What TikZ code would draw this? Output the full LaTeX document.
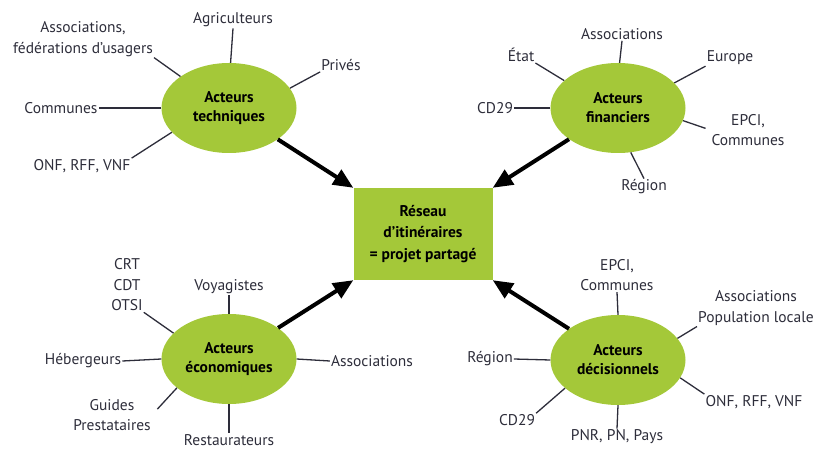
\documentclass[tikz,border=0pt]{standalone}
\usepackage{fontspec}
\setmainfont{PT Sans}
\usepackage{xcolor}
\usepackage{tikz}
\usetikzlibrary{arrows.meta}
\usetikzlibrary{shapes.geometric}

\definecolor{leaf}{RGB}{164,200,57}
\definecolor{ink}{RGB}{45,45,58}

\tikzset{
  acteur/.style={ellipse,fill=leaf,minimum width=135pt,minimum height=90pt,
    inner sep=0pt,align=center,font=\bfseries\fontsize{15.5}{19}\selectfont},
  lab/.style={align=center,text=ink,inner sep=1pt,
    font=\fontsize{15.5}{20.5}\selectfont},
  spoke/.style={draw=ink,line width=1.3pt},
  push/.style={line width=4pt,-{Triangle[length=20pt,width=17pt]}}
}

\begin{document}
\begin{tikzpicture}[x=1pt,y=-1pt]
    \useasboundingbox (0,0) rectangle (816,449);
    % centre
    \node[fill=leaf,minimum width=139pt,minimum height=92pt,align=center,
      font=\bfseries\fontsize{15.5}{21.5}\selectfont] (reseau) at (423,234)
      {Réseau\\d’itinéraires\\= projet partagé};
    % acteurs
    \node[acteur] (tech) at (229,108) {Acteurs\\techniques};
    \node[acteur] (fin) at (618,108) {Acteurs\\financiers};
    \node[acteur] (eco) at (229,359) {Acteurs\\économiques};
    \node[acteur] (dec) at (618,360) {Acteurs\\décisionnels};
    \draw[push] (tech) -- (reseau.north west);
    \draw[push] (fin) -- (reseau.north east);
    \draw[push] (eco) -- (reseau.south west);
    \draw[push] (dec) -- (reseau.south east);
    % techniques
    \node[lab] (assot) at (83,39) {Associations,\\fédérations d’usagers};
    \node[lab] (agri) at (233,20) {Agriculteurs};
    \node[lab] (prive) at (341,65) {Privés};
    \node[lab] (commt) at (61,108) {Communes};
    \node[lab] (onft) at (82,166) {ONF, RFF, VNF};
    \draw[spoke] (tech.147) -- (assot.south east);
    \draw[spoke] (tech.88) -- (agri.south);
    \draw[spoke] (tech.18) -- (prive.south west);
    \draw[spoke] (tech.west) -- (commt.east);
    \draw[spoke] (tech.203) -- (onft.north east);
    % financiers
    \node[lab] (etat) at (521,55) {État};
    \node[lab] (assof) at (622,34) {Associations};
    \node[lab] (europe) at (730,58) {Europe};
    \node[lab] (cdf) at (495,108) {CD29};
    \node[lab] (epcif) at (748,130) {EPCI,\\Communes};
    \node[lab] (regf) at (644,187) {Région};
    \draw[spoke] (fin.153) -- (etat.south east);
    \draw[spoke] (fin.88) -- (assof.south);
    \draw[spoke] (fin.24) -- (europe.south west);
    \draw[spoke] (fin.west) -- (cdf.east);
    \draw[spoke, shorten >=5pt] (fin.349) -- (epcif.west);
    \draw[spoke] (fin.286) -- (regf.north);
    % economiques
    \node[lab] (crt) at (127,285) {CRT\\CDT\\OTSI};
    \node[lab] (voya) at (229,287) {Voyagistes};
    \node[lab] (heber) at (83,361) {Hébergeurs};
    \node[lab] (assoe) at (372,361) {Associations};
    \node[lab] (guide) at (112,415) {Guides\\Prestataires};
    \node[lab] (resto) at (229,440) {Restaurateurs};
    \draw[spoke] (eco.155) -- (crt.south east);
    \draw[spoke] (eco.north) -- (voya.south);
    \draw[spoke] (eco.west) -- (heber.east);
    \draw[spoke] (eco.east) -- (assoe.west);
    \draw[spoke, shorten >=8pt] (eco.209) -- (guide.east);
    \draw[spoke] (eco.south) -- (resto.north);
    % decisionnels
    \node[lab] (epcid) at (617,275) {EPCI,\\Communes};
    \node[lab] (popu) at (756,308) {Associations\\Population locale};
    \node[lab] (regd) at (490,359) {Région};
    \node[lab] (onfd) at (754,402) {ONF, RFF, VNF};
    \node[lab] (cdd) at (517,420) {CD29};
    \node[lab] (pnr) at (617,437) {PNR, PN, Pays};
    \draw[spoke] (dec.north) -- (epcid.south);
    \draw[spoke] (dec.20) -- (popu.south west);
    \draw[spoke] (dec.west) -- (regd.east);
    \draw[spoke] (dec.344) -- (onfd.north west);
    \draw[spoke] (dec.208) -- (cdd.north east);
    \draw[spoke] (dec.south) -- (pnr.north);
\end{tikzpicture}
\end{document}
